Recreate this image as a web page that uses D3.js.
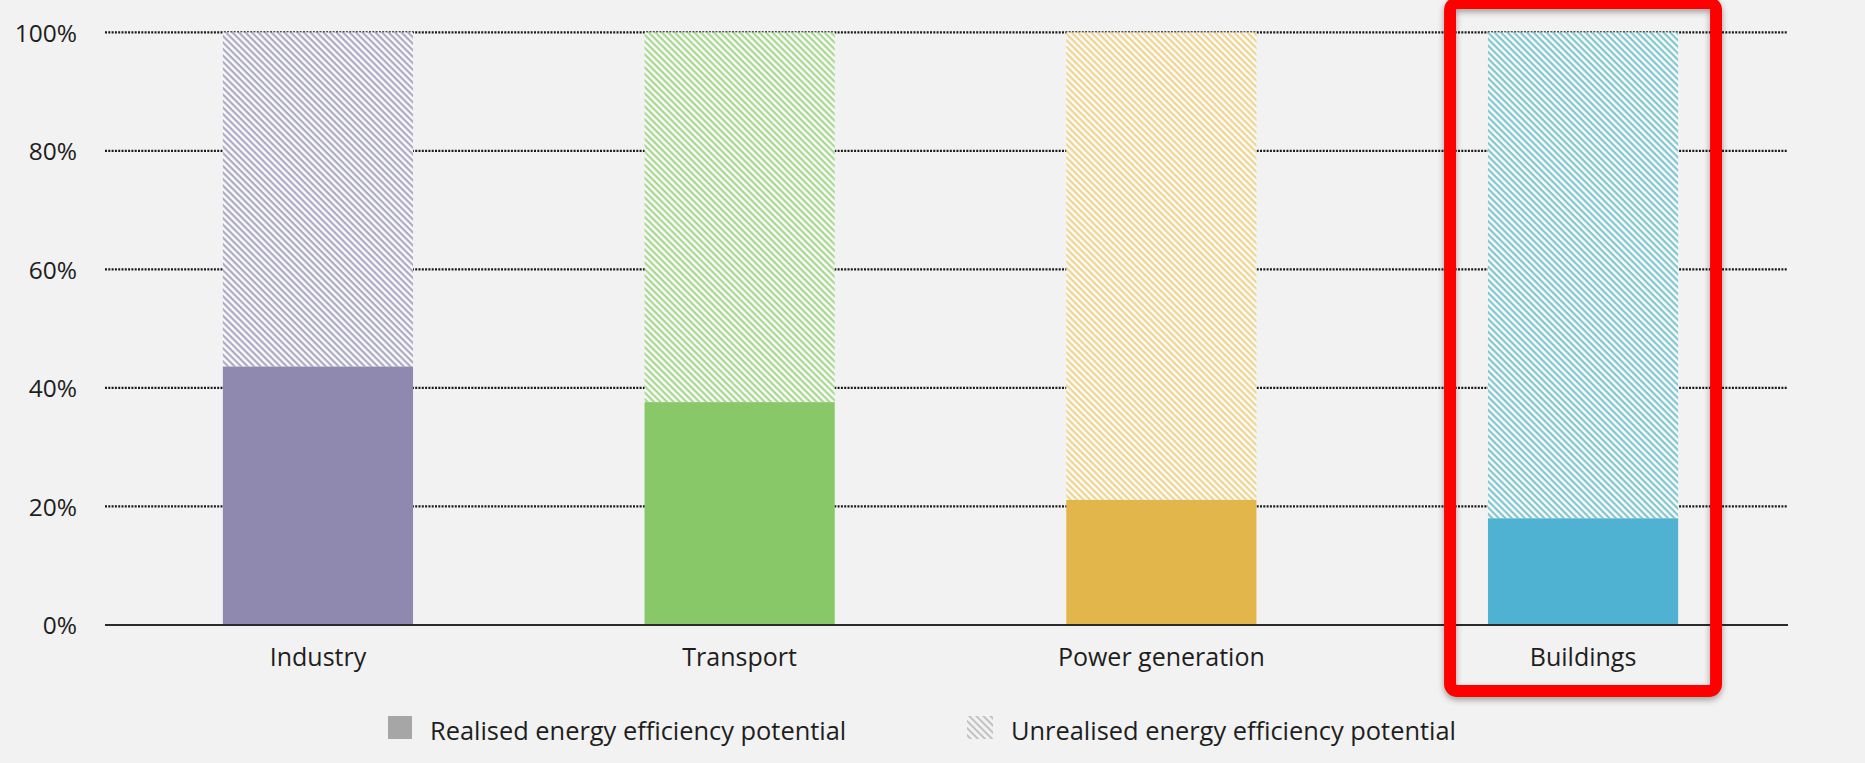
<!DOCTYPE html>
<html>
<head>
<meta charset="utf-8">
<script src="https://cdn.jsdelivr.net/npm/d3@7"></script>
<style>
  html, body { margin: 0; padding: 0; background: #f2f2f2; }
  svg { display: block; }
  text { font-family: "Open Sans", sans-serif; fill: #1e1e1e; }
</style>
</head>
<body>
<svg id="chart" width="1865" height="763"></svg>
<script>
// ---- data ----
const categories = ["Industry", "Transport", "Power generation", "Buildings"];
const realised = [43.6, 37.6, 21.1, 18.0];
const unrealised = realised.map(v => 100 - v);
const yTicks = [0, 20, 40, 60, 80, 100];
const solidColors = ["#8f89b0", "#88c868", "#e3b64c", "#4fb2d3"];
const hatchColors = ["#a5a2bf", "#9fd584", "#eed184", "#74c2ca"];
const legendLabels = ["Realised energy efficiency potential", "Unrealised energy efficiency potential"];
const highlighted = "Buildings";

const svg = d3.select("#chart");
svg.append("rect").attr("width", 1865).attr("height", 763).attr("fill", "#f2f2f2");

const defs = svg.append("defs");
hatchColors.forEach((c, i) => {
  const p = defs.append("pattern")
    .attr("id", "hatch" + i)
    .attr("patternUnits", "userSpaceOnUse")
    .attr("width", 4.6).attr("height", 4.6)
    .attr("patternTransform", "rotate(45)");
  p.append("rect").attr("width", 4.6).attr("height", 4.6).attr("fill", "#fbfbfb");
  p.append("line").attr("x1", 0).attr("x2", 4.6).attr("y1", 1.2).attr("y2", 1.2)
    .attr("stroke", c).attr("stroke-width", 2);
});
const lp = defs.append("pattern")
  .attr("id", "hatchLegend")
  .attr("patternUnits", "userSpaceOnUse")
  .attr("width", 5).attr("height", 5)
  .attr("patternTransform", "rotate(45)");
lp.append("line").attr("x1", 0).attr("x2", 5).attr("y1", 1).attr("y2", 1)
  .attr("stroke", "#b5b5b5").attr("stroke-width", 1.6);

const shadow = defs.append("filter").attr("id", "shadow")
  .attr("x", "-10%").attr("y", "-10%").attr("width", "120%").attr("height", "120%");
shadow.append("feDropShadow").attr("dx", 0).attr("dy", 3).attr("stdDeviation", 3)
  .attr("flood-color", "#000").attr("flood-opacity", 0.35);

// ---- scales ----
const y = d3.scaleLinear().domain([0, 100]).range([625, 32.3]);
const x = d3.scaleBand().domain(categories).range([109, 1792])
  .paddingInner(0.549).paddingOuter(0.27);

const gridX0 = 105, gridX1 = 1788;

// gridlines
const grid = svg.append("g");
grid.selectAll("line").data(yTicks.filter(t => t > 0)).join("line")
  .attr("x1", gridX0).attr("x2", gridX1)
  .attr("y1", d => y(d)).attr("y2", d => y(d))
  .attr("stroke", "#1a1a1a").attr("stroke-width", 2.2)
  .attr("stroke-dasharray", "2 1.3");

// bars: unrealised (hatched) on top of realised (solid)
const bars = svg.append("g");
bars.selectAll(".unreal").data(categories).join("rect")
  .attr("class", "unreal")
  .attr("x", d => x(d)).attr("width", x.bandwidth())
  .attr("y", (d, i) => y(100))
  .attr("height", (d, i) => y(realised[i]) - y(100))
  .attr("fill", (d, i) => `url(#hatch${i})`);
bars.selectAll(".real").data(categories).join("rect")
  .attr("class", "real")
  .attr("x", d => x(d)).attr("width", x.bandwidth())
  .attr("y", (d, i) => y(realised[i]))
  .attr("height", (d, i) => y(0) - y(realised[i]))
  .attr("fill", (d, i) => solidColors[i]);

// baseline
svg.append("line").attr("x1", gridX0).attr("x2", gridX1)
  .attr("y1", y(0)).attr("y2", y(0))
  .attr("stroke", "#2b2b2b").attr("stroke-width", 2);

// y axis labels
const yAxis = d3.axisLeft(y).tickValues(yTicks).tickFormat(d => d + "%").tickSize(0).tickPadding(0);
const yg = svg.append("g").attr("transform", "translate(77,0)").call(yAxis);
yg.select(".domain").remove();
yg.selectAll("text").attr("font-size", 24.5).attr("font-family", "Open Sans").attr("fill", "#1e1e1e")
  .attr("dy", "0.36em");

// x axis labels
const xAxis = d3.axisBottom(x).tickSize(0).tickPadding(0);
const xg = svg.append("g").attr("transform", "translate(0,666)").call(xAxis);
xg.select(".domain").remove();
xg.selectAll("text").attr("font-size", 25).attr("font-family", "Open Sans").attr("fill", "#1e1e1e")
  .attr("dy", 0);

// legend
const legend = svg.append("g");
legend.append("rect").attr("x", 388).attr("y", 716).attr("width", 24).attr("height", 23).attr("fill", "#a6a6a6");
legend.append("text").attr("x", 430).attr("y", 740).attr("font-size", 25.4).text(legendLabels[0]);
legend.append("rect").attr("x", 967).attr("y", 716).attr("width", 26).attr("height", 23).attr("fill", "url(#hatchLegend)");
legend.append("text").attr("x", 1011).attr("y", 740).attr("font-size", 25.4).text(legendLabels[1]);

// highlight box
svg.append("rect")
  .attr("x", x(highlighted) + x.bandwidth() / 2 - 133).attr("y", 3)
  .attr("width", 266).attr("height", 688)
  .attr("rx", 7).attr("ry", 7)
  .attr("fill", "none").attr("stroke", "#ff0000").attr("stroke-width", 12)
  .attr("filter", "url(#shadow)");
</script>
</body>
</html>
